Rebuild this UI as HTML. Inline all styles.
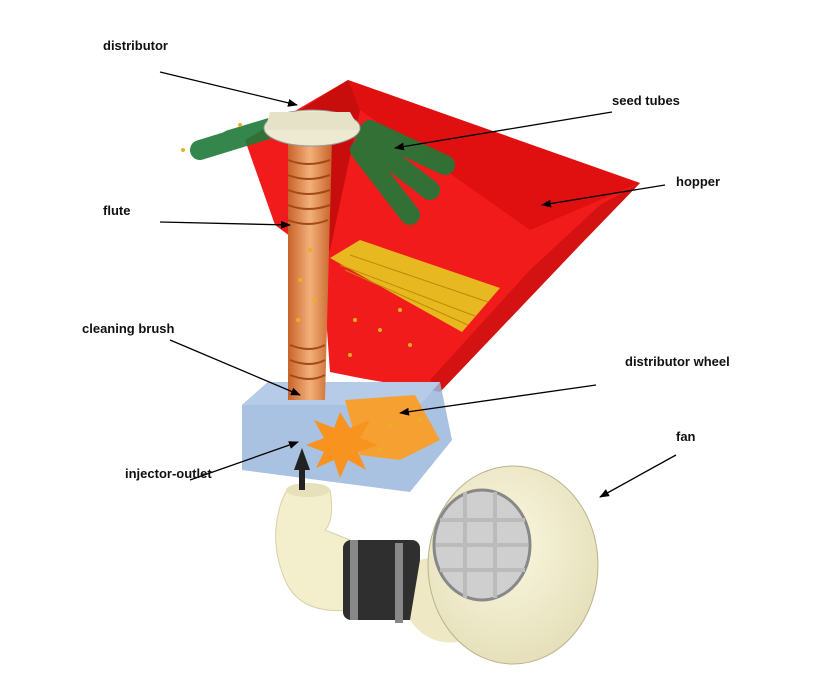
<!DOCTYPE html>
<html><head><meta charset="utf-8"><style>
html,body{margin:0;padding:0;background:#fff}
svg{display:block}
text{font-family:"Liberation Sans",sans-serif;font-size:13px;font-weight:bold;fill:#111}
</style></head><body>
<svg width="833" height="687" viewBox="0 0 833 687" xmlns="http://www.w3.org/2000/svg">
<defs>
<marker id="ah" markerWidth="10" markerHeight="8" refX="9" refY="4" orient="auto" markerUnits="userSpaceOnUse">
<path d="M0,0 L10,4 L0,8 z" fill="#000"/></marker>
<linearGradient id="fl" x1="0" x2="1"><stop offset="0" stop-color="#c8632a"/><stop offset=".5" stop-color="#f2b07a"/><stop offset="1" stop-color="#c8632a"/></linearGradient>
<radialGradient id="fan" cx=".45" cy=".4" r=".7"><stop offset="0" stop-color="#fbf8e2"/><stop offset="1" stop-color="#e2dcb4"/></radialGradient>
</defs>
<!-- hopper -->
<polygon points="245,140 348,80 640,183 580,245 440,392 360,378 330,372 322,260 275,225" fill="#f21b1b"/>
<polygon points="348,80 640,183 600,200 530,230 360,110" fill="#e01010"/>
<polygon points="300,110 348,80 360,110 330,250 322,260" fill="#c80d0d"/>
<polygon points="640,183 580,245 440,392 430,380 530,270 600,205" fill="#d41212"/>
<!-- seed grid -->
<polygon points="330,258 360,240 500,288 462,332" fill="#e8b820"/>
<g stroke="#c08a00" stroke-width="1">
<line x1="340" y1="265" x2="475" y2="316"/><line x1="350" y1="255" x2="488" y2="302"/><line x1="345" y1="270" x2="468" y2="325"/>
</g>
<!-- blue box -->
<polygon points="242,405 268,382 440,382 452,440 410,492 242,470" fill="#9ab7dc" opacity=".85"/>
<polygon points="242,405 268,382 440,382 420,405" fill="#b6cbe8"/>
<!-- flute -->
<polygon points="288,140 332,140 325,400 288,400" fill="url(#fl)"/>
<g stroke="#a34a18" stroke-width="2" fill="none">
<path d="M288,160 q20,8 42,0"/><path d="M288,175 q20,8 42,0"/><path d="M288,190 q20,8 42,0"/><path d="M288,205 q20,8 42,0"/><path d="M288,220 q20,8 40,0"/>
<path d="M290,345 q20,8 35,0"/><path d="M290,360 q20,8 35,0"/><path d="M290,375 q20,8 35,0"/>
</g>
<!-- wheel -->
<polygon points="345,400 415,395 440,440 400,460 360,455" fill="#f5a030"/>
<polygon points="340,412 350,428 370,420 360,438 378,445 358,452 366,470 348,460 340,478 334,460 316,468 324,452 306,445 324,438 314,420 334,428" fill="#f7931e"/>
<!-- distributor & green tubes -->
<g stroke="#1f7a3a" stroke-width="20" stroke-linecap="round" opacity=".9">
<line x1="200" y1="150" x2="265" y2="130"/><line x1="230" y1="140" x2="280" y2="125"/>
<line x1="365" y1="140" x2="430" y2="190"/><line x1="360" y1="150" x2="410" y2="215"/><line x1="370" y1="130" x2="445" y2="165"/>
</g>
<ellipse cx="312" cy="128" rx="48" ry="18" fill="#eeead2" stroke="#999"/>
<path d="M270,112 L350,112 L360,130 L265,130 z" fill="#e6e2c8"/>
<!-- seeds -->
<g fill="#e6b020">
<circle cx="183" cy="150" r="2"/><circle cx="240" cy="125" r="2"/><circle cx="350" cy="355" r="2"/><circle cx="380" cy="330" r="2"/><circle cx="410" cy="345" r="2"/><circle cx="355" cy="320" r="2"/><circle cx="400" cy="310" r="2"/><circle cx="300" cy="280" r="2"/><circle cx="310" cy="250" r="2"/><circle cx="298" cy="320" r="2"/><circle cx="315" cy="300" r="2"/><circle cx="390" cy="425" r="2"/><circle cx="380" cy="450" r="2"/><circle cx="420" cy="420" r="2"/>
</g>
<!-- elbow pipe -->
<path d="M287,490 L330,490 Q335,520 325,530 L350,540 L350,610 Q300,615 285,580 Q268,540 282,500 z" fill="#f3eecb" stroke="#d8d2a8"/>
<ellipse cx="308" cy="490" rx="22" ry="7" fill="#e6e0bb"/>
<rect x="343" y="540" width="77" height="80" rx="8" fill="#2f2f2f"/>
<rect x="350" y="540" width="8" height="80" fill="#888"/><rect x="395" y="543" width="8" height="80" fill="#888"/>
<!-- fan -->
<path d="M420,560 L440,555 L470,640 Q430,650 410,620 z" fill="#eee8c4"/>
<ellipse cx="513" cy="565" rx="85" ry="99" fill="url(#fan)" stroke="#b9b48e"/>
<ellipse cx="482" cy="545" rx="48" ry="55" fill="#cfcfcf" stroke="#888" stroke-width="3"/>
<g stroke="#bbb" stroke-width="4"><line x1="440" y1="520" x2="525" y2="520"/><line x1="436" y1="545" x2="528" y2="545"/><line x1="440" y1="570" x2="525" y2="570"/><line x1="465" y1="492" x2="465" y2="598"/><line x1="495" y1="492" x2="495" y2="598"/></g>
<rect x="299" y="470" width="6" height="20" fill="#222"/><path d="M294,470 L302,448 L310,470z" fill="#222"/>
<!-- arrows -->
<g stroke="#000" stroke-width="1.3" marker-end="url(#ah)">
<line x1="160" y1="72" x2="297" y2="105"/>
<line x1="612" y1="112" x2="395" y2="148"/>
<line x1="665" y1="185" x2="542" y2="205"/>
<line x1="160" y1="222" x2="290" y2="225"/>
<line x1="170" y1="340" x2="300" y2="395"/>
<line x1="596" y1="385" x2="400" y2="413"/>
<line x1="676" y1="455" x2="600" y2="497"/>
<line x1="190" y1="480" x2="298" y2="442"/>
</g>
<text x="103" y="50">distributor</text>
<text x="612" y="105">seed tubes</text>
<text x="676" y="186">hopper</text>
<text x="103" y="215">flute</text>
<text x="82" y="333">cleaning brush</text>
<text x="625" y="366">distributor wheel</text>
<text x="676" y="441">fan</text>
<text x="125" y="478">injector-outlet</text>
</svg>
</body></html>
